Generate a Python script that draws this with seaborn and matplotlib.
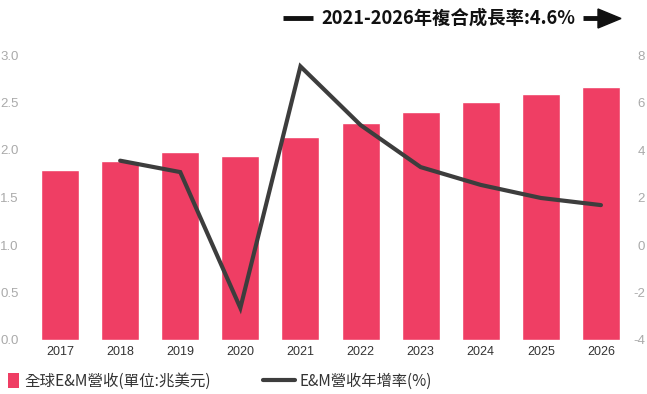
import matplotlib
matplotlib.use("Agg")
import matplotlib.pyplot as plt
import seaborn as sns
import numpy as np
import pandas as pd
from matplotlib.lines import Line2D
from matplotlib.patches import Patch, Polygon

years = ["2017", "2018", "2019", "2020", "2021", "2022", "2023", "2024", "2025", "2026"]
revenue = [1.79, 1.88, 1.98, 1.94, 2.14, 2.28, 2.40, 2.51, 2.59, 2.66]
growth_years = ["2018", "2019", "2020", "2021", "2022", "2023", "2024", "2025", "2026"]
growth = [3.55, 3.07, -2.65, 7.52, 5.05, 3.28, 2.53, 1.98, 1.68]
left_ticks = [0.0, 0.5, 1.0, 1.5, 2.0, 2.5, 3.0]
right_ticks = [-4, -2, 0, 2, 4, 6, 8]
bar_label = "全球E&M營收(單位:兆美元)"
line_label = "E&M營收年增率(%)"
headline = "2021-2026年複合成長率:4.6%"

BAR_COLOR = "#EF3E64"
LINE_COLOR = "#3D3D3D"
CJK = ["Noto Sans CJK TC", "DejaVu Sans"]

sns.set_theme(style="white")
plt.rcParams["font.family"] = ["Liberation Sans", "Noto Sans CJK TC", "DejaVu Sans"]

fig = plt.figure(figsize=(6.47, 3.94), dpi=100)
W, H = 647, 394
ax = fig.add_axes([30 / W, 1 - 340 / H, (631 - 30) / W, (340 - 55) / H])

df = pd.DataFrame({"year": years, "revenue": revenue})
sns.barplot(data=df, x="year", y="revenue", color=BAR_COLOR, saturation=1,
            width=0.633, ax=ax, zorder=2)
ax.set_xlim(-0.5, 9.5)
ax.set_ylim(0, 3.0)
ax.set_yticks(left_ticks)
ax.set_yticklabels([f"{v:.1f}" for v in left_ticks])
ax.set_xlabel("")
ax.set_ylabel("")
ax.tick_params(axis="y", colors="#AAAAAA", labelsize=9.5, length=0, pad=8)
ax.tick_params(axis="x", colors="#333333", labelsize=9, length=0, pad=4)
for s in ax.spines.values():
    s.set_visible(False)

ax2 = ax.twinx()
gpos = np.array([years.index(y) for y in growth_years])
sns.lineplot(x=gpos, y=growth, color=LINE_COLOR, linewidth=3, ax=ax2, zorder=3)
ax2.lines[0].set_solid_joinstyle("miter")
ax2.set_ylim(-4, 8)
ax2.set_yticks(right_ticks)
ax2.set_yticklabels([str(v) for v in right_ticks])
ax2.tick_params(axis="y", colors="#AAAAAA", labelsize=9.5, length=0, pad=10)
for lab in ax2.get_yticklabels():
    lab.set_horizontalalignment("right")
for s in ax2.spines.values():
    s.set_visible(False)
ax2.grid(False)
ax.grid(False)

# headline with arrow decorations
fig.text(321 / W, 1 - 18 / H, headline, fontsize=13.2, fontweight="semibold",
         family=CJK, color="#111111", va="center", ha="left")
fig.add_artist(Line2D([283 / W, 313 / W], [1 - 18 / H, 1 - 18 / H],
                      color="#111111", linewidth=3.5, solid_capstyle="butt",
                      transform=fig.transFigure))
fig.add_artist(Line2D([583 / W, 600 / W], [1 - 18 / H, 1 - 18 / H],
                      color="#111111", linewidth=3.5, solid_capstyle="butt",
                      transform=fig.transFigure))
fig.add_artist(Polygon([[598 / W, 1 - 9 / H], [598 / W, 1 - 28 / H], [621 / W, 1 - 18.5 / H]],
                       closed=True, color="#111111", transform=fig.transFigure))

leg1 = fig.legend([Patch(facecolor=BAR_COLOR, edgecolor="none")], [bar_label],
                  loc="center left", bbox_to_anchor=(8 / W, 1 - 381 / H), frameon=False,
                  prop={"family": CJK, "size": 11.2}, handlelength=0.7, handleheight=1.15,
                  handletextpad=0.35, borderpad=0, borderaxespad=0)
leg2 = fig.legend([Line2D([0], [0], color=LINE_COLOR, linewidth=3)], [line_label],
                  loc="center left", bbox_to_anchor=(263 / W, 1 - 381 / H), frameon=False,
                  prop={"family": CJK, "size": 11.0}, handlelength=2.1,
                  handletextpad=0.3, borderpad=0, borderaxespad=0)
for leg in (leg1, leg2):
    for t in leg.get_texts():
        t.set_color("#333333")

fig.savefig("out.png", dpi=100)
